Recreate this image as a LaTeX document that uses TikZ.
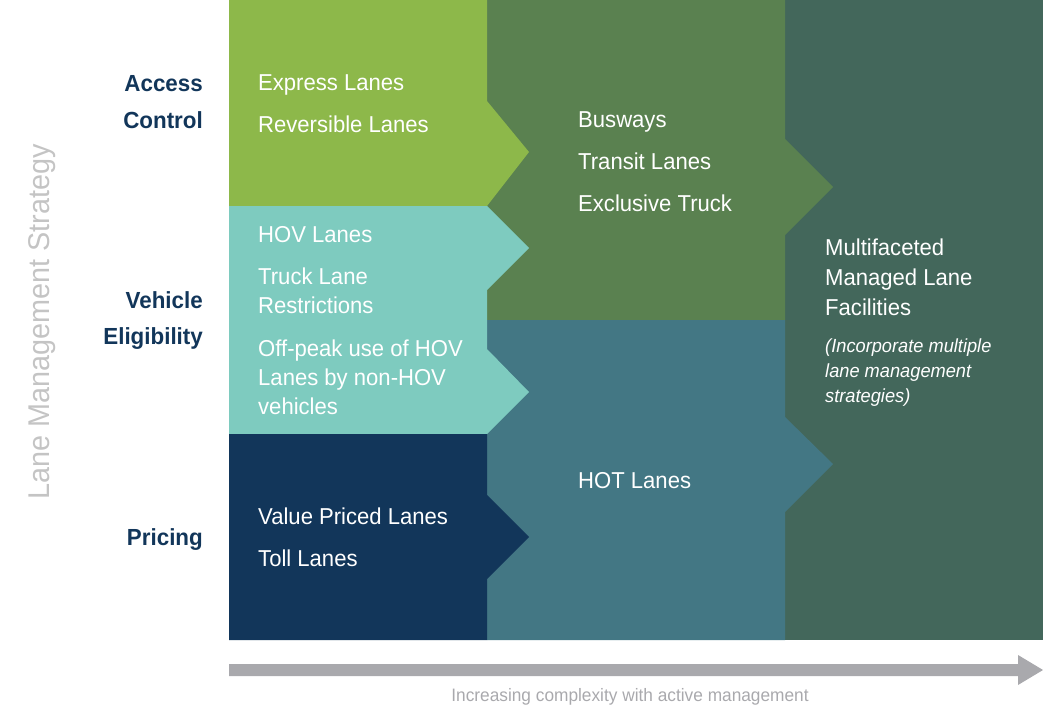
\documentclass[tikz,border=0pt]{standalone}
\usepackage{fontspec}
\setmainfont[FakeStretch=0.96]{Liberation Sans}
\definecolor{lgreen}{HTML}{8DB84A}
\definecolor{mgreen}{HTML}{5A8150}
\definecolor{dgreen}{HTML}{43675B}
\definecolor{teal}{HTML}{7ECBBF}
\definecolor{navy}{HTML}{12365A}
\definecolor{bluegr}{HTML}{437784}
\definecolor{lgray}{HTML}{C4C4C4}
\definecolor{agray}{HTML}{A9A9AD}
\begin{document}
\begin{tikzpicture}[x=1pt,y=-1pt,
  txt/.style={anchor=base west,text=white,font=\fontsize{23}{23}\selectfont,inner sep=0},
  itx/.style={anchor=base west,text=white,font=\fontsize{19}{19}\selectfont\itshape,inner sep=0},
  lbl/.style={anchor=base east,text=navy,font=\fontsize{23.3}{23.3}\selectfont\bfseries,inner sep=0}]
\useasboundingbox (0,0) rectangle (1043,725);
% column 3
\fill[dgreen] (785,0) rectangle (1043,640);
% column 2
\fill[mgreen] (487,0) -- (785,0) -- (785,139) -- (833,187) -- (785,235) -- (785,320) -- (487,320) -- cycle;
\fill[bluegr] (487,320) -- (785,320) -- (785,417) -- (833,464) -- (785,512) -- (785,640) -- (487,640) -- cycle;
% column 1
\fill[lgreen] (229,0) -- (487,0) -- (487,101) -- (529,152) -- (487,206) -- (229,206) -- cycle;
\fill[teal] (229,206) -- (487,206) -- (529,248) -- (487,290) -- (487,349) -- (529,392) -- (487,434) -- (229,434) -- cycle;
\fill[navy] (229,434) -- (487,434) -- (487,495) -- (529,537) -- (487,579) -- (487,640) -- (229,640) -- cycle;
% texts
\node[txt] (t1) at (258,90) {Express Lanes};
\node[txt] (t2) at (258,132) {Reversible Lanes};
\node[txt] (t3) at (258,242) {HOV Lanes};
\node[txt] (t4) at (258,284) {Truck Lane};
\node[txt] (t5) at (258,313) {Restrictions};
\node[txt] (t6) at (258,356) {Off-peak use of HOV};
\node[txt] (t7) at (258,385) {Lanes by non-HOV};
\node[txt] (t8) at (258,414) {vehicles};
\node[txt] (t9) at (258,524) {Value Priced Lanes};
\node[txt] (t10) at (258,566) {Toll Lanes};
\node[txt] (u1) at (578,127) {Busways};
\node[txt] (u2) at (578,169) {Transit Lanes};
\node[txt] (u3) at (578,211) {Exclusive Truck};
\node[txt] (u4) at (578,488) {HOT Lanes};
\node[txt] (v1) at (825,255) {Multifaceted};
\node[txt] (v2) at (825,285) {Managed Lane};
\node[txt] (v3) at (825,315) {Facilities};
\node[itx] (w1) at (825,352) {(Incorporate multiple};
\node[itx] (w2) at (825,377) {lane management};
\node[itx] (w3) at (825,402) {strategies)};
\node[lbl] (l1) at (203,91) {Access};
\node[lbl] (l2) at (203,128) {Control};
\node[lbl] (l3) at (203,308) {Vehicle};
\node[lbl] (l4) at (203,344) {Eligibility};
\node[lbl] (l5) at (203,545) {Pricing};
\node[rotate=90,text=lgray,font=\fontsize{30}{30}\selectfont,inner sep=0] (side) at (42,322) {Lane Management Strategy};
% bottom arrow
\fill[agray] (229,664) -- (1018,664) -- (1018,655) -- (1043,670) -- (1018,685) -- (1018,676) -- (229,676) -- cycle;
\node[text=agray,font=\fontsize{18}{18}\selectfont,inner sep=0] (axis) at (630,697) {Increasing complexity with active management};
\end{tikzpicture}
\end{document}
